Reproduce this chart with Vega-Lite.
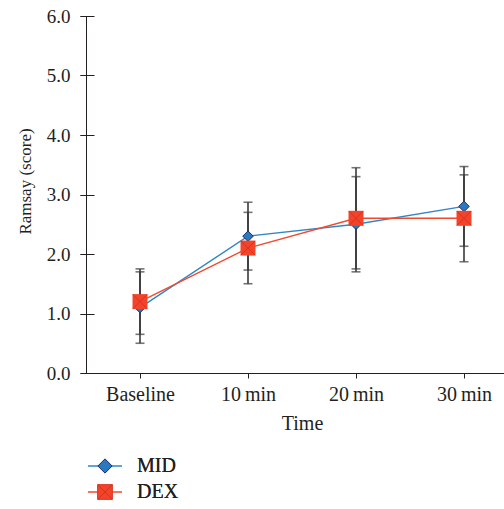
{
  "$schema": "https://vega.github.io/schema/vega-lite/v6.json",
  "autosize": "none",
  "padding": {"left": 86, "top": 16, "right": 0, "bottom": 136},
  "width": 432,
  "height": 357,
  "background": "white",
  "config": {
    "font": "Liberation Serif, Times New Roman, serif",
    "view": {"stroke": null},
    "axis": {"labelFont": "Liberation Serif, Times New Roman, serif", "titleFont": "Liberation Serif, Times New Roman, serif", "labelColor": "#231f20", "titleColor": "#231f20", "domainColor": "#231f20", "tickColor": "#231f20", "grid": false, "labelFontSize": 20, "titleFontSize": 20, "titleFontWeight": "normal"},
    "legend": {"labelFont": "Liberation Serif, Times New Roman, serif", "labelFontSize": 20, "labelColor": "#231f20"}
  },
  "data": {
    "values": [
      {"time": "Baseline", "group": "MID", "mean": 1.1, "lo": 0.5, "hi": 1.7},
      {"time": "10\u2009min", "group": "MID", "mean": 2.3, "lo": 1.73, "hi": 2.87},
      {"time": "20\u2009min", "group": "MID", "mean": 2.5, "lo": 1.7, "hi": 3.3},
      {"time": "30\u2009min", "group": "MID", "mean": 2.8, "lo": 2.13, "hi": 3.47},
      {"time": "Baseline", "group": "DEX", "mean": 1.2, "lo": 0.65, "hi": 1.75},
      {"time": "10\u2009min", "group": "DEX", "mean": 2.1, "lo": 1.5, "hi": 2.7},
      {"time": "20\u2009min", "group": "DEX", "mean": 2.6, "lo": 1.75, "hi": 3.45},
      {"time": "30\u2009min", "group": "DEX", "mean": 2.6, "lo": 1.87, "hi": 3.33}
    ]
  },
  "encoding": {
    "x": {"field": "time", "type": "ordinal", "sort": null,
      "scale": {"type": "point", "padding": 0.5},
      "axis": {"title": "Time", "labelAngle": 0, "tickSize": 5, "labelPadding": 6, "titlePadding": 9}}
  },
  "layer": [
    {
      "mark": {"type": "rule", "color": "#3a3a3a", "strokeWidth": 1.6},
      "encoding": {
        "y": {"field": "lo", "type": "quantitative", "scale": {"domain": [0, 6]},
          "axis": {"title": "Ramsay (score)", "titleFontSize": 17, "labelFontSize": 19, "values": [0, 1, 2, 3, 4, 5, 6], "format": ".1f", "tickSize": 6, "labelPadding": 10, "titleX": -56, "titleY": 165, "titleBaseline": "alphabetic", "titleAngle": -90}},
        "y2": {"field": "hi"}
      }
    },
    {
      "mark": {"type": "tick", "color": "#3a3a3a", "thickness": 1.6, "size": 9},
      "encoding": {
        "y": {"field": "lo", "type": "quantitative", "axis": {"orient": "left", "offset": -8, "tickSize": 14, "labels": false, "domain": false, "title": null, "values": [0, 1, 2, 3, 4, 5, 6]}}
      }
    },
    {
      "mark": {"type": "tick", "color": "#3a3a3a", "thickness": 1.6, "size": 9},
      "encoding": {"y": {"field": "hi", "type": "quantitative", "axis": null}}
    },
    {
      "mark": {"type": "line", "strokeWidth": 1.4},
      "encoding": {
        "y": {"field": "mean", "type": "quantitative", "axis": null},
        "color": {"field": "group", "type": "nominal", "scale": {"domain": ["MID", "DEX"], "range": ["#2f86c6", "#f04a2e"]}, "legend": null},
        "order": {"field": "group", "sort": "descending"}
      }
    },
    {
      "transform": [{"filter": "datum.group === 'MID'"}],
      "mark": {"type": "point", "shape": "diamond", "filled": true, "fill": "#2a79bf", "stroke": "#1d2c6b", "strokeWidth": 1, "size": 110, "opacity": 1},
      "encoding": {"y": {"field": "mean", "type": "quantitative", "axis": null}}
    },
    {
      "transform": [{"filter": "datum.group === 'DEX'"}],
      "mark": {"type": "point", "shape": "square", "filled": true, "fill": "#f2442b", "strokeWidth": 0, "size": 225, "opacity": 1},
      "encoding": {"y": {"field": "mean", "type": "quantitative", "axis": null}}
    },
    {
      "transform": [{"filter": "datum.group === 'DEX'"}],
      "mark": {"type": "point", "shape": "M-1,-1L1,1M-1,1L1,-1", "filled": false, "stroke": "#d8321f", "strokeWidth": 1, "size": 200, "opacity": 1},
      "encoding": {"y": {"field": "mean", "type": "quantitative", "axis": null}}
    },
    {
      "mark": {"type": "point", "filled": false, "opacity": 0},
      "encoding": {
        "y": {"field": "mean", "type": "quantitative", "axis": null},
        "stroke": {"field": "group", "type": "nominal", "title": null,
          "scale": {"domain": ["MID", "DEX"], "range": ["#2f86c6", "#f04a2e"]},
          "legend": {"orient": "none", "legendX": 9, "legendY": 440, "symbolType": "M-2.2,0H2.2", "symbolSize": 240, "symbolStrokeWidth": 1.4, "labelOffset": 22, "rowPadding": 6, "padding": 0, "symbolOpacity": 1, "title": null}}
      }
    },
    {
      "mark": {"type": "point", "filled": true, "opacity": 0},
      "encoding": {
        "y": {"field": "mean", "type": "quantitative", "axis": null},
        "fill": {"field": "group", "type": "nominal", "title": null,
          "scale": {"domain": ["MID", "DEX"], "range": ["#2a79bf", "#f2442b"]},
          "legend": {"orient": "none", "legendX": 9, "legendY": 440, "symbolSize": 240, "symbolStrokeWidth": 1, "labelOffset": 22, "rowPadding": 6, "padding": 0, "symbolOpacity": 1, "title": null}},
        "stroke": {"field": "group", "type": "nominal", "title": null,
          "scale": {"domain": ["MID", "DEX"], "range": ["#1d2c6b", "#d8321f"]},
          "legend": {"orient": "none", "legendX": 9, "legendY": 440, "symbolSize": 240, "symbolStrokeWidth": 1, "labelOffset": 22, "rowPadding": 6, "padding": 0, "symbolOpacity": 1, "title": null}},
        "shape": {"field": "group", "type": "nominal", "title": null,
          "scale": {"domain": ["MID", "DEX"], "range": ["M0,-0.92L0.92,0L0,0.92L-0.92,0Z", "M-0.95,-0.95H0.95V0.95H-0.95ZM-0.95,-0.95L0.95,0.95M-0.95,0.95L0.95,-0.95"]},
          "legend": {"orient": "none", "legendX": 9, "legendY": 440, "symbolSize": 240, "labelOffset": 22, "rowPadding": 6, "padding": 0, "symbolOpacity": 1, "title": null}}
      }
    }
  ],
  "resolve": {
    "axis": {"y": "independent"},
    "scale": {"stroke": "independent", "fill": "independent", "shape": "independent"},
    "legend": {"stroke": "independent", "fill": "independent", "shape": "independent"}
  }
}
